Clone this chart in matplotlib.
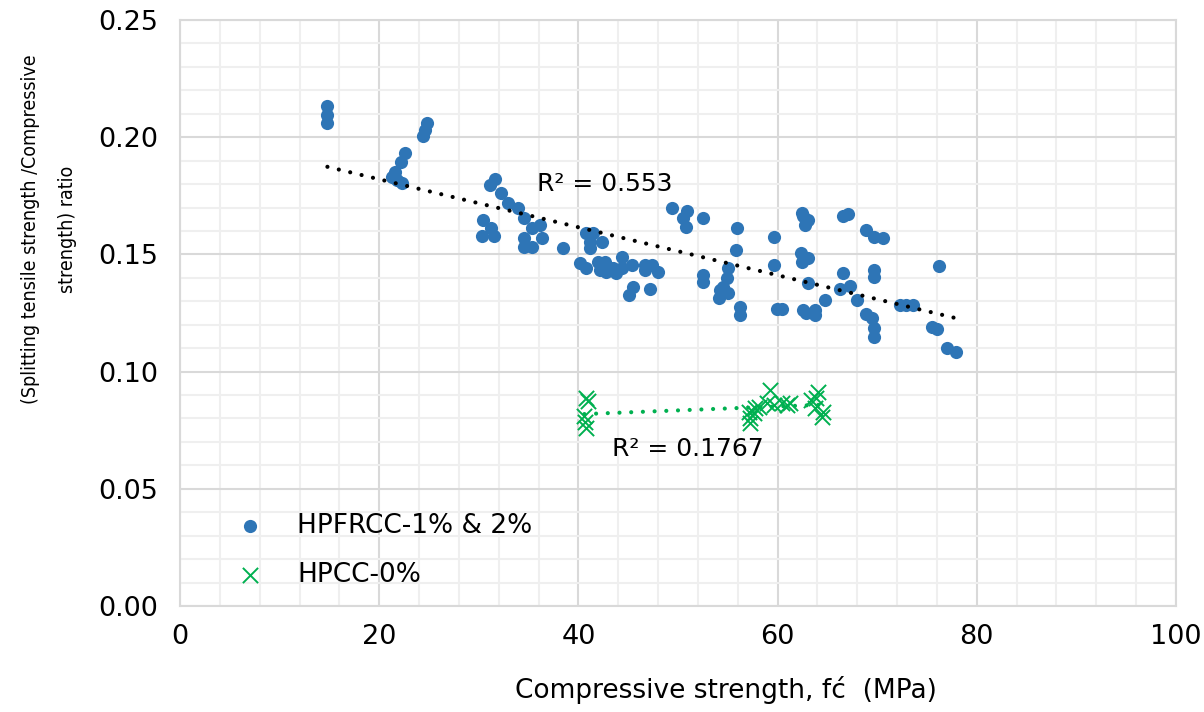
import numpy as np
import matplotlib
matplotlib.use("Agg")
import matplotlib.pyplot as plt
from matplotlib.ticker import MultipleLocator, FormatStrFormatter

# HPFRCC (1% & 2% fibre) specimens: compressive strength (MPa) vs ratio
hpfrcc_fc = [
    14.8, 14.8, 14.8,
    24.8, 24.6, 24.4,
    22.6, 22.2, 21.6, 21.3, 21.8, 22.3,
    31.6, 31.1, 32.2, 32.9, 33.9, 34.5, 30.4, 30.3, 31.5, 31.2, 35.3, 36.1,
    36.3, 34.5, 34.5, 35.3, 38.5,
    40.8, 41.5, 41.2, 41.2, 42.4, 40.2, 40.8, 42.0, 42.7, 42.2, 42.8, 43.5,
    43.8, 44.4, 44.4, 45.4, 46.7, 47.4, 46.7, 48.0, 45.5, 45.1, 47.2,
    49.4, 50.9, 50.5, 50.8, 52.5, 55.9, 55.8, 55.0, 54.9, 54.5, 54.2, 54.1,
    55.0, 52.5, 52.5, 56.2, 56.2,
    59.6, 59.6, 59.9, 60.4,
    62.4, 62.6, 63.1, 62.8, 62.3, 63.1, 62.4, 63.1, 64.8, 62.6, 62.9, 63.75,
    63.75,
    66.6, 67.1, 66.6, 66.3, 67.3, 68.0,
    68.9, 69.7, 70.55, 69.7, 69.7, 68.9, 69.5, 69.7, 69.7,
    72.3, 72.9, 73.6, 76.2, 75.5, 76.0, 77.0, 77.9,
]
hpfrcc_ratio = [
    0.2133, 0.2096, 0.2060,
    0.2060, 0.2031, 0.2003,
    0.1931, 0.1893, 0.1850, 0.1829, 0.1817, 0.1803,
    0.1820, 0.1796, 0.1763, 0.1718, 0.1697, 0.1654, 0.1647, 0.1580, 0.1578,
    0.1611, 0.1611, 0.1625,
    0.1569, 0.1569, 0.1533, 0.1530, 0.1526,
    0.1590, 0.1593, 0.1555, 0.1526, 0.1555, 0.1465, 0.1441, 0.1469, 0.1469,
    0.1433, 0.1426, 0.1441,
    0.1422, 0.1490, 0.1441, 0.1455, 0.1455, 0.1455, 0.1433, 0.1426, 0.1362,
    0.1327, 0.1352,
    0.1700, 0.1687, 0.1654, 0.1618, 0.1654, 0.1611, 0.1519, 0.1441, 0.1398,
    0.1360, 0.1348, 0.1313,
    0.1334, 0.1410, 0.1384, 0.1277, 0.1241,
    0.1573, 0.1455, 0.1265, 0.1265,
    0.1675, 0.1664, 0.1647, 0.1625, 0.1505, 0.1483, 0.1469, 0.1376, 0.1307,
    0.1264, 0.1249, 0.1240,
    0.1263,
    0.1665, 0.1673, 0.1422, 0.1353, 0.1364, 0.1306,
    0.1603, 0.1576, 0.1569, 0.1433, 0.1403, 0.1245, 0.1227, 0.1185, 0.1149,
    0.1286, 0.1284, 0.1284, 0.1452, 0.1192, 0.1180, 0.1099, 0.1085,
]

# HPCC (plain, 0% fibre) specimens
hpcc_fc = [
    40.8, 41.0, 40.6, 40.7, 40.8,
    57.1, 57.2, 57.2, 57.7, 58.1, 57.6, 59.2, 58.9, 59.6, 60.4, 61.2, 60.9,
    64.05, 63.9, 63.4, 63.75, 64.5, 64.6,
]
hpcc_ratio = [
    0.0886, 0.0875, 0.0810, 0.0785, 0.0760,
    0.0829, 0.0800, 0.0780, 0.0843, 0.0850, 0.0822, 0.0922, 0.0865, 0.0858,
    0.0865, 0.0865, 0.0858,
    0.0914, 0.0886, 0.0879, 0.0843, 0.0808, 0.0829,
]

series_labels = ["HPFRCC-1% & 2%", "HPCC-0%"]
r2_labels = ["R² = 0.553", "R² = 0.1767"]
x_ticks = [0, 20, 40, 60, 80, 100]
y_ticks = [0.00, 0.05, 0.10, 0.15, 0.20, 0.25]

blue = "#2E75B6"
green = "#00B050"
font = "DejaVu Sans"

fig = plt.figure(figsize=(12.04, 7.12), dpi=100)
ax = fig.add_axes([180 / 1204, 106 / 712, 996 / 1204, 586 / 712])

ax.set_xlim(x_ticks[0], x_ticks[-1])
ax.set_ylim(y_ticks[0], y_ticks[-1])
ax.set_xticks(x_ticks)
ax.set_yticks(y_ticks)
ax.xaxis.set_minor_locator(MultipleLocator(4))
ax.yaxis.set_minor_locator(MultipleLocator(0.01))
ax.yaxis.set_major_formatter(FormatStrFormatter("%.2f"))
ax.grid(which="major", color="#d9d9d9", linewidth=1.5, zorder=0)
ax.grid(which="minor", color="#efefef", linewidth=1.5, zorder=0)
ax.set_axisbelow(True)
for side, sp in ax.spines.items():
    sp.set_color("#d9d9d9")
    sp.set_linewidth(1.5)
ax.tick_params(which="both", length=0)
ax.tick_params(axis="x", pad=13, labelsize=19.5)
ax.tick_params(axis="y", pad=16, labelsize=19.5)
for lab in ax.get_xticklabels() + ax.get_yticklabels():
    lab.set_fontfamily(font)

ax.scatter(hpfrcc_fc, hpfrcc_ratio, s=90, color=blue, linewidths=0,
           zorder=3, label=series_labels[0])
ax.scatter(hpcc_fc, hpcc_ratio, s=120, marker="x", color=green,
           linewidths=1.4, zorder=3, label=series_labels[1])

# Linear trend lines fitted to each series
for xs, ys, col in [(hpfrcc_fc, hpfrcc_ratio, "black"), (hpcc_fc, hpcc_ratio, green)]:
    xs = np.asarray(xs)
    k, b = np.polyfit(xs, np.asarray(ys), 1)
    xx = np.array([xs.min(), xs.max()])
    ax.plot(xx, k * xx + b, color=col, linewidth=3.0,
            linestyle=(0, (0.01, 2.8)), dash_capstyle="round", zorder=4)

ax.text(35.85, 0.180, r2_labels[0], fontsize=18, family=font,
        ha="left", va="center", zorder=5)
ax.text(43.4, 0.067, r2_labels[1], fontsize=18, family=font,
        ha="left", va="center", zorder=5)

leg = ax.legend(loc="upper left", bbox_to_anchor=(0.045, 0.158),
                frameon=False, handlelength=1.9,
                handletextpad=0.85, labelspacing=0.85, borderpad=0,
                borderaxespad=0, scatterpoints=1,
                prop={"family": font, "size": 19})

fig.text(726 / 1204, 1 - 690 / 712, "Compressive strength, fć  (MPa)",
         fontsize=19, family=font, ha="center", va="center")
fig.text(49 / 1204, 1 - 229 / 712,
         "(Splitting tensile strength /Compressive\nstrength) ratio",
         fontsize=14, family=font, fontstretch="condensed",
         rotation=90, ha="center", va="center", multialignment="center",
         linespacing=2.15)

fig.savefig("out.png", dpi=100)
